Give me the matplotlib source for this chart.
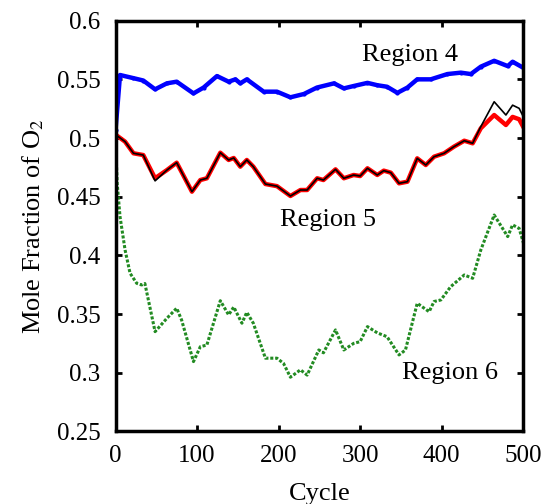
import matplotlib
matplotlib.use("Agg")
import matplotlib.pyplot as plt

plt.rcParams['font.family'] = ['Liberation Serif', 'DejaVu Serif']
plt.rcParams['mathtext.fontset'] = 'stix'

# Region 4 (blue)
r4_x = [0, 5.5, 22, 34, 48.5, 63, 75, 95.6, 108, 124.4, 138.7, 147, 153, 161, 181.7, 198, 214.5, 231, 247,
        268, 280, 292, 309, 321, 333, 345.7, 358, 370, 386.6, 407, 423.5, 435.8, 448, 464.4, 481, 487, 501]
r4_y = [0.507, 0.5537, 0.551, 0.549, 0.5415, 0.5466, 0.548, 0.538, 0.543, 0.5528, 0.548, 0.550, 0.5466, 0.550,
        0.5395, 0.5395, 0.5347, 0.5375, 0.543, 0.5466, 0.5423, 0.5443, 0.547, 0.545, 0.5437, 0.5385, 0.543,
        0.550, 0.550, 0.5545, 0.5557, 0.5545, 0.5608, 0.5658, 0.5613, 0.565, 0.5595]

# Region 5 (red, model) and black (reference)
r5_x = [0.6, 11.7, 22, 34, 48.5, 63, 75, 93.7, 104, 112, 128.5, 138.7, 145, 153, 161, 169, 183.8, 198, 214.5,
        226.8, 235, 247.3, 255, 269.8, 280, 292, 300, 309, 321, 329, 337.6, 347.7, 358, 370, 380.5, 390.7,
        403, 415, 427.7, 438, 448, 464.4, 478.8, 487, 495, 501]
r5_red = [0.5026, 0.4969, 0.487, 0.4855, 0.4657, 0.4727, 0.479, 0.4543, 0.4642, 0.4657, 0.4875, 0.4813, 0.483,
          0.4756, 0.4813, 0.4756, 0.4608, 0.459, 0.4506, 0.4557, 0.4557, 0.4657, 0.4642, 0.4733, 0.4657, 0.4685,
          0.4676, 0.4742, 0.4685, 0.4722, 0.4705, 0.4614, 0.4628, 0.4827, 0.477, 0.4841, 0.487, 0.4926, 0.4977,
          0.4955, 0.5083, 0.5196, 0.5111, 0.518, 0.516, 0.5083]
r5_black = [0.5026, 0.4969, 0.487, 0.4855, 0.4635, 0.4727, 0.479, 0.4543, 0.4642, 0.4657, 0.4875, 0.4813, 0.483,
            0.4756, 0.4813, 0.4756, 0.4608, 0.459, 0.4506, 0.4557, 0.4557, 0.4657, 0.4642, 0.4733, 0.4657, 0.4685,
            0.4676, 0.4742, 0.4685, 0.4722, 0.4705, 0.4614, 0.4628, 0.4827, 0.477, 0.4841, 0.487, 0.4926, 0.4977,
            0.4955, 0.5097, 0.5309, 0.5196, 0.528, 0.5253, 0.517]

# Region 6 (green)
r6_x = [0, 2, 5.5, 11.7, 17.8, 26, 32, 36, 48.5, 63, 75, 81, 95.6, 104, 112, 128.5, 138.7, 145, 155, 161, 169,
        183.8, 198, 206, 214.5, 226.8, 235, 249.3, 255, 269.8, 280, 292, 300, 309, 321, 333, 347.7, 355.6, 370,
        384.6, 390.7, 399, 411, 427.7, 438, 448, 464.4, 481, 487, 495, 501]
r6_y = [0.50, 0.4614, 0.433, 0.4046, 0.3848, 0.3762, 0.3748, 0.376, 0.335, 0.3464, 0.355, 0.345, 0.3095, 0.3222,
        0.3236, 0.3614, 0.3493, 0.356, 0.3422, 0.3515, 0.3422, 0.3124, 0.3124, 0.308, 0.2962, 0.3025, 0.298,
        0.3194, 0.317, 0.3365, 0.3194, 0.325, 0.3265, 0.3393, 0.334, 0.3307, 0.3152, 0.3194, 0.3592, 0.352,
        0.3607, 0.362, 0.3733, 0.3833, 0.3805, 0.4046, 0.4344, 0.416, 0.426, 0.423, 0.4089]

x_ticks = [0, 100, 200, 300, 400, 500]
y_ticks = [0.25, 0.3, 0.35, 0.4, 0.45, 0.5, 0.55, 0.6]
y_tick_labels = ['0.25', '0.3', '0.35', '0.4', '0.45', '0.5', '0.55', '0.6']

fig = plt.figure(figsize=(5.45, 5.04), dpi=100)
ax = fig.add_axes([0.212, 0.144, 0.748, 0.815])

ax.plot(r4_x, r4_y, color='#0000ff', lw=3.2, marker='.', ms=4)
ax.plot(r5_x, r5_red, color='#ff0000', lw=3.2)
ax.plot(r5_x, r5_black, color='black', lw=1.2)
ax.plot(r6_x, r6_y, color='#228b22', lw=2.2, ls=(0, (1, 0.6)))

ax.text(361, 0.5707, 'Region 4', fontsize=19, ha='center', va='center')
ax.text(260, 0.430, 'Region 5', fontsize=19, ha='center', va='center')
ax.text(410, 0.2996, 'Region 6', fontsize=19, ha='center', va='center')

ax.set_xlim(0, 500)
ax.set_ylim(0.25, 0.6)
ax.set_xticks(x_ticks)
ax.set_yticks(y_ticks)
ax.set_yticklabels(y_tick_labels)
ax.tick_params(direction='in', length=4, width=2, labelsize=18, top=True, right=True)
ax.tick_params(axis='x', pad=10)
ax.tick_params(axis='y', pad=11)
for s in ax.spines.values():
    s.set_linewidth(2.5)
ax.set_xlabel('Cycle', fontsize=19)
ax.set_ylabel('Mole Fraction of O$_2$', fontsize=19)
ax.xaxis.set_label_coords(0.5, -0.125)
ax.yaxis.set_label_coords(-0.17, 0.5)

fig.savefig('out.png', dpi=100)
